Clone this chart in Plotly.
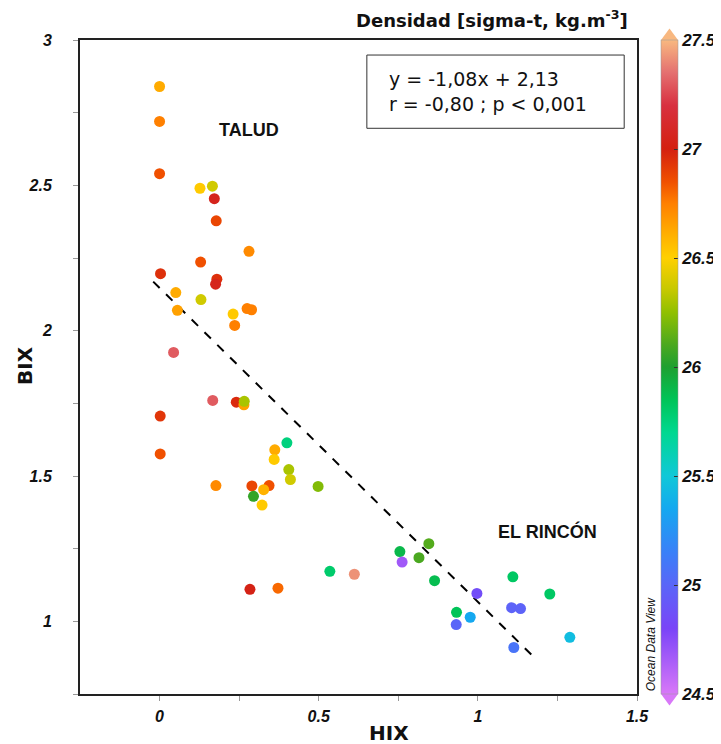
import plotly.graph_objects as go

# ---- data ----
hix = [0.000, 0.000, 0.000, 0.127, 0.166, 0.172, 0.178, 0.281, 0.129, 0.003,
       0.180, 0.176, 0.051, 0.130, 0.056, 0.231, 0.275, 0.289, 0.236, 0.044,
       0.167, 0.241, 0.265, 0.266, 0.002, 0.002, 0.400, 0.362, 0.360, 0.406,
       0.411, 0.498, 0.177, 0.290, 0.344, 0.327, 0.295, 0.322, 0.284, 0.372,
       0.535, 0.612, 0.755, 0.762, 0.846, 0.815, 0.864, 0.997, 0.933, 0.976,
       0.932, 1.110, 1.106, 1.134, 1.226, 1.289, 1.113]
bix = [2.840, 2.720, 2.540, 2.490, 2.497, 2.454, 2.378, 2.273, 2.236, 2.196,
       2.177, 2.160, 2.131, 2.107, 2.070, 2.057, 2.076, 2.072, 2.018, 1.925,
       1.760, 1.754, 1.745, 1.757, 1.706, 1.576, 1.614, 1.590, 1.557, 1.522,
       1.488, 1.464, 1.467, 1.466, 1.467, 1.453, 1.430, 1.400, 1.110, 1.114,
       1.172, 1.162, 1.240, 1.204, 1.267, 1.219, 1.140, 1.096, 1.031, 1.014,
       0.989, 1.153, 1.047, 1.044, 1.094, 0.945, 0.910]
densidad = [26.62, 26.75, 26.85, 26.52, 26.38, 27.05, 26.88, 26.72, 26.85, 26.95,
            26.95, 27.05, 26.62, 26.38, 26.65, 26.52, 26.75, 26.75, 26.75, 27.30,
            27.30, 26.97, 26.65, 26.30, 26.93, 26.85, 25.75, 26.62, 26.52, 26.30,
            26.38, 26.22, 26.72, 26.88, 26.85, 26.60, 26.05, 26.52, 27.02, 26.80,
            25.80, 27.42, 25.90, 24.68, 26.12, 26.10, 25.88, 24.85, 25.85, 25.35,
            25.00, 25.82, 24.98, 24.98, 25.82, 25.45, 25.08]

fit_x = [-0.02, 1.185]
slope = -1.08
intercept = 2.147
fit_y = [slope * v + intercept for v in fit_x]

x_ticks = [0, 0.5, 1, 1.5]
y_ticks = [1, 1.5, 2, 2.5, 3]
cb_ticks = [24.5, 25, 25.5, 26, 26.5, 27, 27.5]
cmin, cmax = 24.5, 27.5

stops = [
    (24.5, "#d878f8"), (24.8, "#7a44f8"), (25.0, "#5a66f8"), (25.15, "#3a80f8"),
    (25.35, "#14a8f0"), (25.5, "#10c8d8"), (25.7, "#00d890"), (25.85, "#00c458"),
    (26.0, "#1ea030"), (26.1, "#4aa820"), (26.25, "#90c000"), (26.35, "#c4c800"),
    (26.5, "#ffd000"), (26.6, "#ffb200"), (26.75, "#ff8000"), (26.85, "#f05000"),
    (27.0, "#d42010"), (27.2, "#d83040"), (27.35, "#e47070"), (27.5, "#f8b880"),
]
colorscale = [[(v - cmin) / (cmax - cmin), c] for v, c in stops]

tickfont = dict(family="Liberation Sans, Arial", size=16, color="#111",
                weight="bold", style="italic")
cbfont = dict(family="Liberation Sans, Arial", size=17, color="#111",
              weight="bold", style="italic")

fig = go.Figure()
fig.add_trace(go.Scatter(
    x=fit_x, y=fit_y, mode="lines",
    line=dict(color="black", width=2, dash="dash"),
    hoverinfo="skip", showlegend=False))
fig.add_trace(go.Scatter(
    x=hix, y=bix, mode="markers",
    marker=dict(size=11, color=densidad, colorscale=colorscale,
                cmin=cmin, cmax=cmax, line=dict(width=0),
                colorbar=dict(
                    x=1.0431, xanchor="left", y=0, yanchor="bottom",
                    len=1, lenmode="fraction", thickness=17,
                    thicknessmode="pixels", xpad=0, ypad=0,
                    outlinewidth=0.5, outlinecolor="#999",
                    tickvals=cb_ticks, ticktext=[str(t) for t in cb_ticks],
                    ticks="inside", ticklen=4, tickcolor="#333",
                    tickfont=cbfont)),
    showlegend=False))

# colour bar end triangles
fig.add_shape(type="path", xref="paper", yref="paper",
              path="M 1.0431 1.0 L 1.0736 1.0 L 1.05835 1.0175 Z",
              fillcolor="#f8b880", line=dict(width=0))
fig.add_shape(type="path", xref="paper", yref="paper",
              path="M 1.0431 0.0 L 1.0736 0.0 L 1.05835 -0.0175 Z",
              fillcolor="#d878f8", line=dict(width=0))

# equation box
fig.add_shape(type="rect", xref="paper", yref="paper",
              x0=0.515, x1=0.977, y0=0.865, y1=0.977,
              line=dict(color="#333", width=1), fillcolor="white")
fig.add_annotation(xref="paper", yref="paper", x=0.551, y=0.921,
                   xanchor="left", yanchor="middle", align="left",
                   text="y = -1,08x + 2,13<br>r = -0,80 ; p < 0,001",
                   showarrow=False,
                   font=dict(family="DejaVu Sans", size=19, color="#111"))

fig.add_annotation(x=0.28, y=2.69, text="<b>TALUD</b>", showarrow=False,
                   font=dict(family="Liberation Sans, Arial", size=18, color="#111"))
fig.add_annotation(x=1.22, y=1.31, text="<b>EL RINCÓN</b>", showarrow=False,
                   font=dict(family="Liberation Sans, Arial", size=18, color="#111"))

fig.add_annotation(xref="paper", yref="paper", x=0.987, y=1.032,
                   xanchor="right", yanchor="middle",
                   text="<b>Densidad [sigma-t, kg.m<sup>-3</sup>]</b>",
                   showarrow=False,
                   font=dict(family="DejaVu Sans", size=18, color="#111"))

fig.add_annotation(xref="paper", yref="paper", x=-0.099, y=0.503,
                   xanchor="center", yanchor="middle",
                   textangle=-90, text="<b>BIX</b>", showarrow=False,
                   font=dict(family="DejaVu Sans", size=20, color="#111"))
fig.add_annotation(xref="paper", yref="paper", x=0.555, y=-0.059,
                   xanchor="center", yanchor="middle",
                   text="<b>HIX</b>", showarrow=False,
                   font=dict(family="DejaVu Sans", size=20, color="#111"))

fig.add_annotation(xref="paper", yref="paper", x=1.025, y=0.076,
                   xanchor="center", yanchor="middle",
                   textangle=-90, text="<i>Ocean Data View</i>", showarrow=False,
                   font=dict(family="Liberation Sans, Arial", size=12, color="#111"))

axis_common = dict(showline=True, linewidth=2, linecolor="#222", mirror=True,
                   showgrid=False, zeroline=False, ticks="outside",
                   ticklen=5, tickcolor="#999", tickwidth=1,
                   tickfont=tickfont, automargin=False)
fig.update_xaxes(range=[-0.25, 1.5], tickvals=x_ticks,
                 ticktext=[str(t) for t in x_ticks],
                 minor=dict(tickvals=[0.25, 0.75, 1.25], ticks="outside",
                            ticklen=5, tickcolor="#999"),
                 ticklabelstandoff=2, **axis_common)
fig.update_yaxes(range=[0.75, 3], tickvals=y_ticks,
                 ticktext=[str(t) for t in y_ticks],
                 minor=dict(tickvals=[0.75, 1.25, 1.75, 2.25, 2.75],
                            ticks="outside", ticklen=5, tickcolor="#999"),
                 ticklabelstandoff=18, **axis_common)

# page body adds an 8px offset, so the figure is sized to fit the window
fig.update_layout(width=713, height=736,
                  margin=dict(l=72, r=84, t=32, b=50, autoexpand=False),
                  plot_bgcolor="white", paper_bgcolor="white")

fig.write_html("out.html")
